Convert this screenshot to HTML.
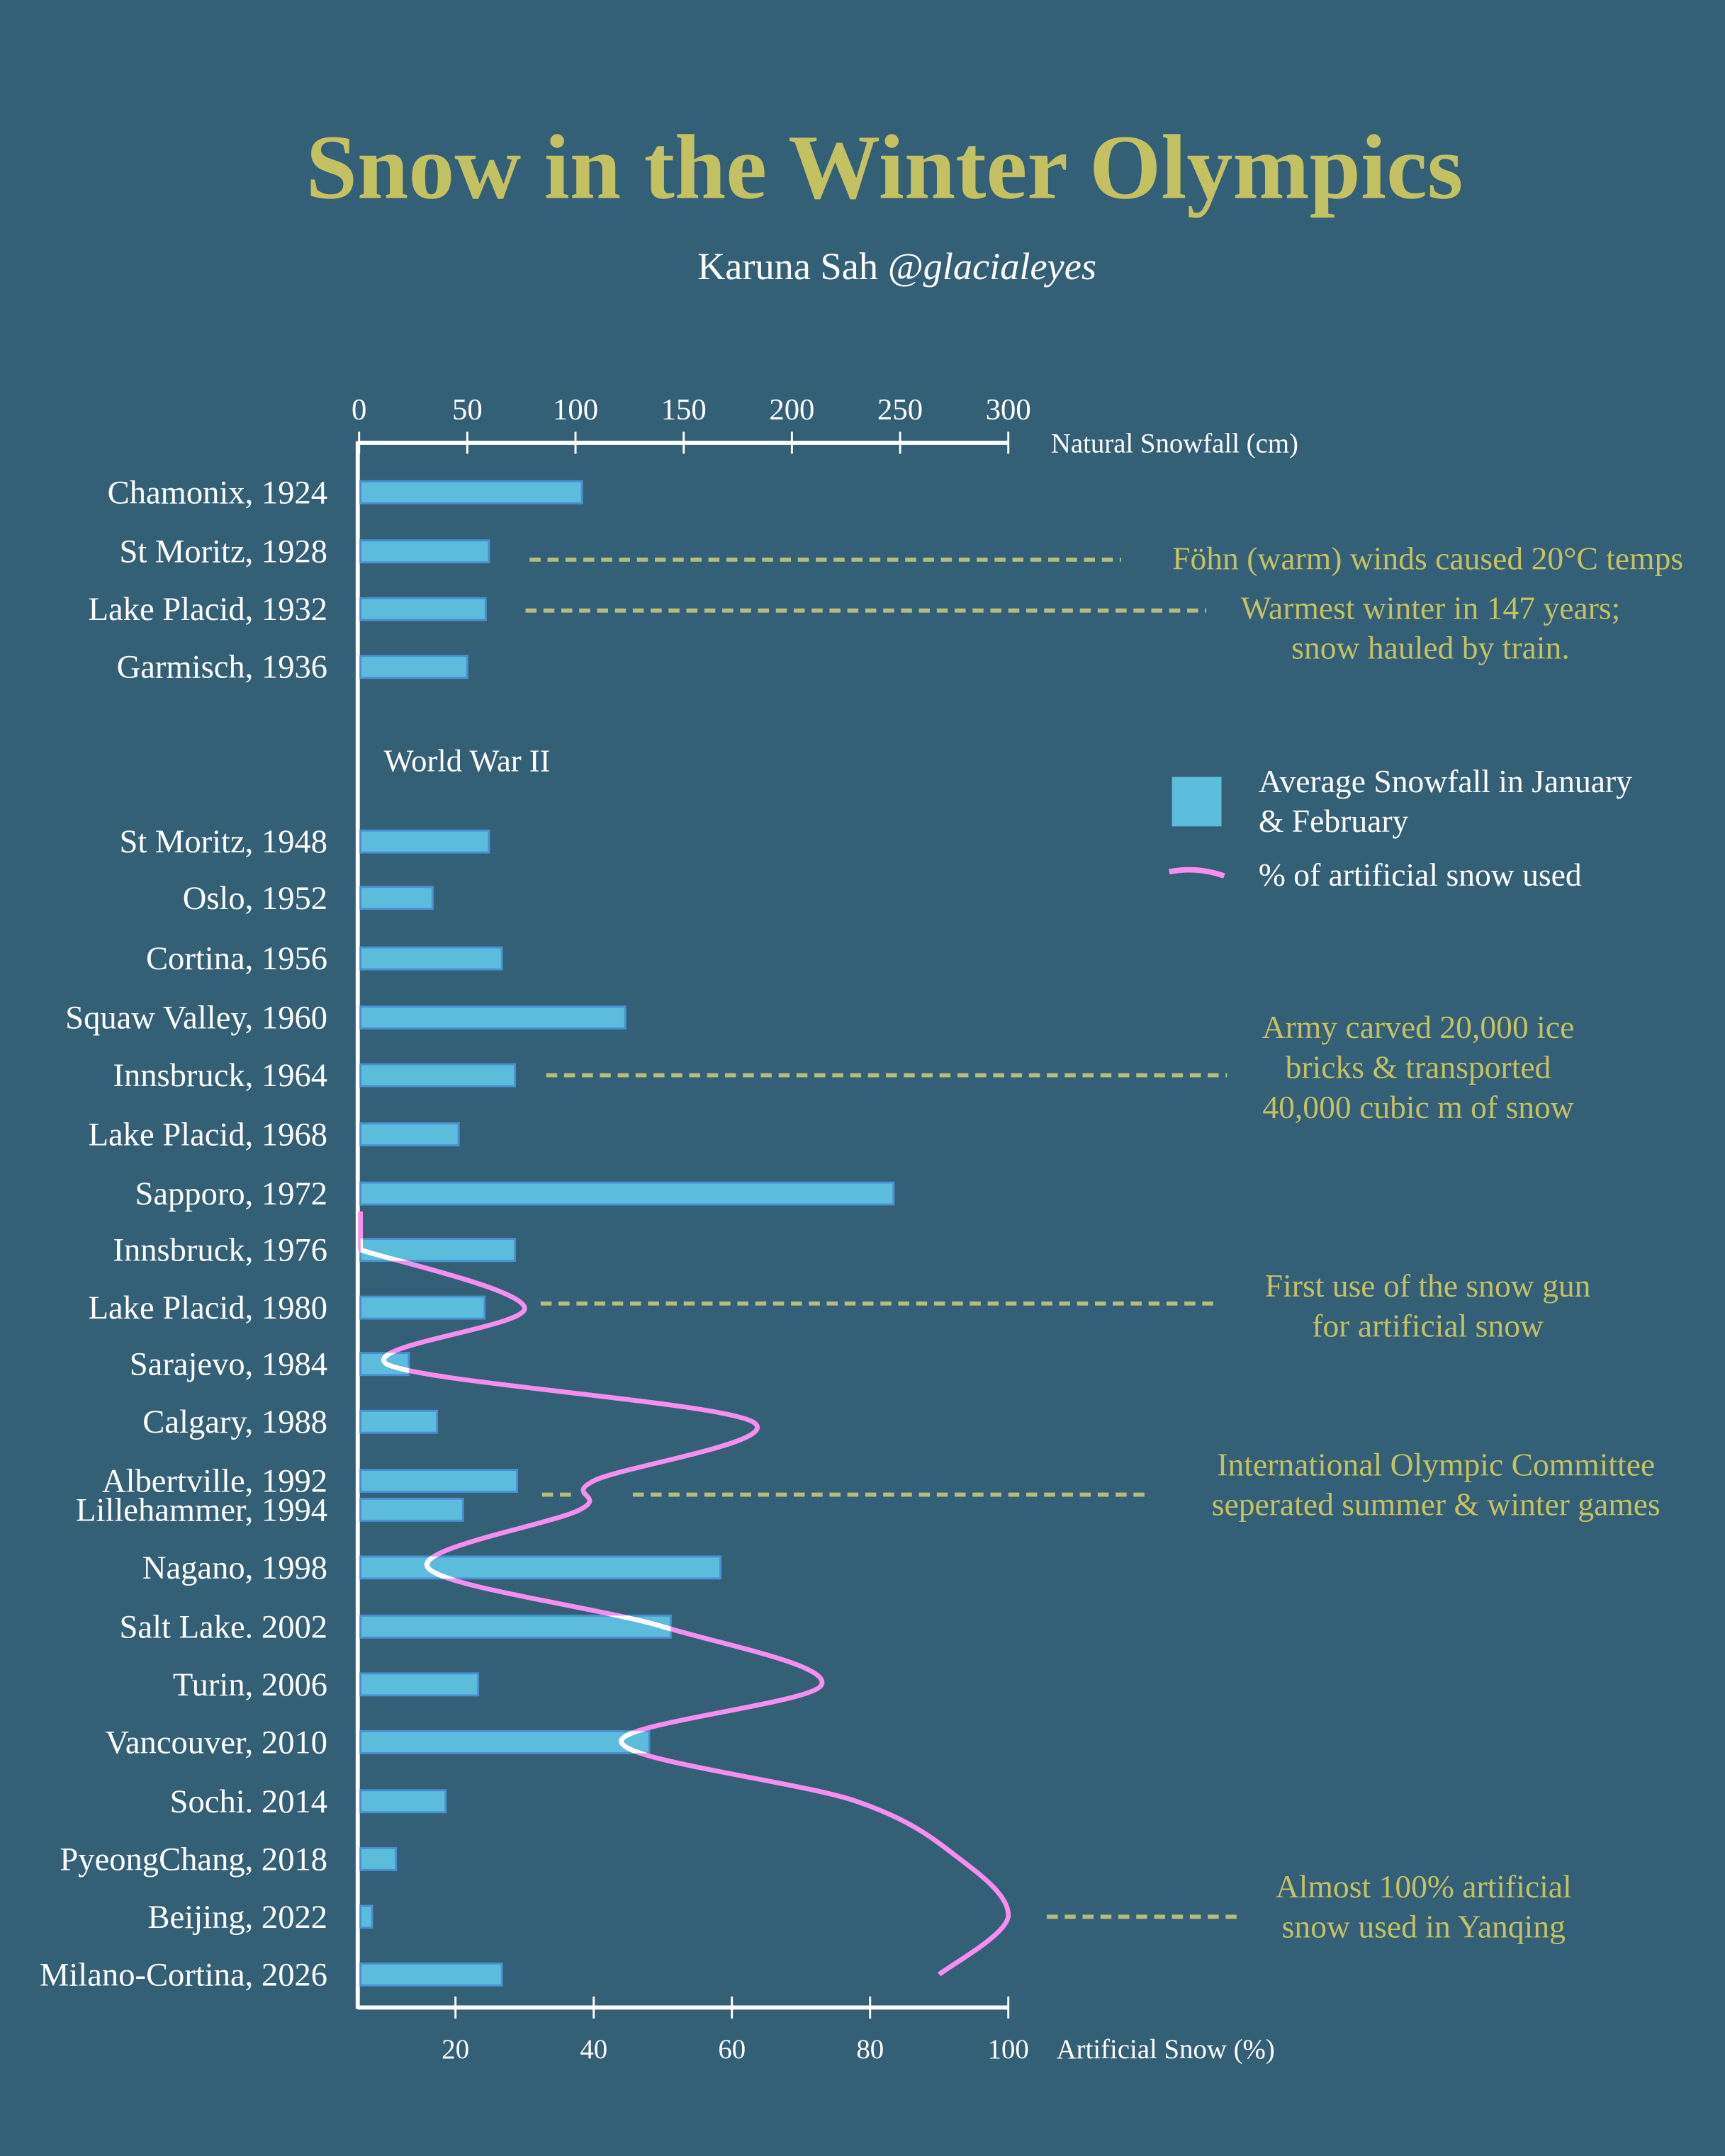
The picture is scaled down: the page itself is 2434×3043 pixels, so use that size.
<!DOCTYPE html>
<html><head><meta charset="utf-8"><style>
html,body{margin:0;padding:0;background:#335f77;}
svg{display:block;font-family:"Liberation Serif",serif;}
</style></head><body>
<svg id="c" width="2434" height="3043" viewBox="0 0 1254 1568">
<rect width="1254" height="1568" fill="#335f77"/>
<text x="643" y="144" text-anchor="middle" font-size="67" font-weight="bold" fill="#c4c163">Snow in the Winter Olympics</text>
<text x="652" y="203" text-anchor="middle" font-size="28" fill="#fff">Karuna Sah <tspan font-style="italic">@glacialeyes</tspan></text>
<g id="plot"></g>
</svg>
<script>
const cats=["Chamonix, 1924","St Moritz, 1928","Lake Placid, 1932","Garmisch, 1936","St Moritz, 1948","Oslo, 1952","Cortina, 1956","Squaw Valley, 1960","Innsbruck, 1964","Lake Placid, 1968","Sapporo, 1972","Innsbruck, 1976","Lake Placid, 1980","Sarajevo, 1984","Calgary, 1988","Albertville, 1992","Lillehammer, 1994","Nagano, 1998","Salt Lake. 2002","Turin, 2006","Vancouver, 2010","Sochi. 2014","PyeongChang, 2018","Beijing, 2022","Milano-Cortina, 2026"];
const snowfall=[103,60,58.5,50,60,34,66,123,72,46,247,72,58,23,36,73,48,167,144,55,134,40,17,6,66];
const artificial=[null,null,null,null,null,null,null,null,null,null,null,6.3,30,10,63,40,38,16,50,73,44,78,93,100,90];
const topTicks=[0,50,100,150,200,250,300];
const botTicks=[20,40,60,80,100];
const rowY=[358,401,443,485,612,653,697,740,782,825,868,909,951,992,1034,1077,1098,1140,1183,1225,1267,1310,1352,1394,1436];
const NS="http://www.w3.org/2000/svg";
const g=document.getElementById('plot');
const xs=v=>261+v*(733-261)/300;
const xa=v=>230.6+v*(733-230.6)/100;
function el(t,a,txt){const e=document.createElementNS(NS,t);for(const k in a)e.setAttribute(k,a[k]);if(txt!=null)e.textContent=txt;g.appendChild(e);return e;}
let ax=el('line',{x1:260,y1:322,x2:733,y2:322,stroke:'#fff','stroke-width':3});

let ay=el('line',{x1:260,y1:321,x2:260,y2:1461,stroke:'#fff','stroke-width':3});

let ab=el('line',{x1:260,y1:1460,x2:733,y2:1460,stroke:'#fff','stroke-width':3});

topTicks.forEach(t=>{const x=xs(t);
 let l=el('line',{x1:x,y1:314,x2:x,y2:330,stroke:'#fff','stroke-width':1.5});
 
 let tx=el('text',{x:x,y:305,'text-anchor':'middle','font-size':22,fill:'#fff'},t);
 });
botTicks.forEach(t=>{const x=xa(t);
 let l=el('line',{x1:x,y1:1452,x2:x,y2:1468,stroke:'#fff','stroke-width':1.5});
 
 let tx=el('text',{x:x,y:1497,'text-anchor':'middle','font-size':20,fill:'#fff'},t);
 });
let t1=el('text',{x:764,y:329,'font-size':20,fill:'#fff'},'Natural Snowfall (cm)');

let t2=el('text',{x:768,y:1497,'font-size':20,fill:'#fff'},'Artificial Snow (%)');

let ww=el('text',{x:279,y:561,'font-size':23,fill:'#fff'},'World War II');

const clip=el('clipPath',{id:'barclip'});
cats.forEach((c,i)=>{const y=rowY[i];
 let tx=el('text',{x:238,y:y+8,'text-anchor':'end','font-size':24,fill:'#fff'},c);
 
 let b=el('rect',{x:262,y:y-8,width:xs(snowfall[i])-262,height:16,fill:'#5bbcdc',stroke:'#4a8fd0','stroke-width':1.5});
 
 const r=document.createElementNS(NS,'rect');r.setAttribute('x',262);r.setAttribute('y',y-8);r.setAttribute('width',xs(snowfall[i])-262);r.setAttribute('height',16);clip.appendChild(r);
});
const pts=[];artificial.forEach((v,i)=>{if(v!=null)pts.push([xa(v),rowY[i]]);});
const cl=x=>Math.max(262,Math.min(734,x));
let d='M262,881 L262,'+(pts[0][1]-6)+' Q262,'+pts[0][1]+' '+pts[0][0]+','+pts[0][1];
for(let i=0;i<pts.length-1;i++){const p0=pts[Math.max(0,i-1)],p1=pts[i],p2=pts[i+1],p3=pts[Math.min(pts.length-1,i+2)];
 d+=` C${cl(p1[0]+(p2[0]-p0[0])/6)},${p1[1]+(p2[1]-p0[1])/6} ${cl(p2[0]-(p3[0]-p1[0])/6)},${p2[1]-(p3[1]-p1[1])/6} ${p2[0]},${p2[1]}`;}
let ln=el('path',{d:d,fill:'none',stroke:'#f78ef0','stroke-width':3.5});

let lw=el('path',{d:d,fill:'none',stroke:'#fff','stroke-width':3.5,'clip-path':'url(#barclip)'});

const gold='#c4c163';
function dash(x1,x2,y,n){let l=el('line',{x1:x1,y1:y,x2:x2,y2:y,stroke:'#b5bd7d','stroke-width':3,'stroke-dasharray':'8 5'});}
function note(x,y,lines,n){lines.forEach((s,k)=>{let t=el('text',{x:x,y:y+k*29,'text-anchor':'middle','font-size':23.5,fill:gold},s);});}
dash(385,815,407,'foehn-leader');note(1038,414,['Föhn (warm) winds caused 20°C temps'],'foehn-note');
dash(382,877,444,'lake-placid-leader');note(1040,450,['Warmest winter in 147 years;','snow hauled by train.'],'lake-placid-note');
dash(397,892,782,'innsbruck-leader');note(1031,755,['Army carved 20,000 ice','bricks & transported','40,000 cubic m of snow'],'innsbruck-note');
dash(393,887,948,'snow-gun-leader');note(1038,943,['First use of the snow gun','for artificial snow'],'snow-gun-note');
dash(394,416,1087,'ioc-leader-a');dash(460,837,1087,'ioc-leader-b');note(1044,1073,['International Olympic Committee','seperated summer & winter games'],'ioc-note');
dash(761,900,1394,'beijing-leader');note(1035,1380,['Almost 100% artificial','snow used in Yanqing'],'beijing-note');
let lg=el('rect',{x:852,y:565,width:36,height:36,fill:'#5bbcdc'});
let lt=el('text',{x:915,y:576,'font-size':23.5,fill:'#fff'},'Average Snowfall in January');
let lt2=el('text',{x:915,y:605,'font-size':23.5,fill:'#fff'},'& February');
let ll=el('path',{d:'M850,634 Q870,630 890,637',fill:'none',stroke:'#f78ef0','stroke-width':4});
let lt3=el('text',{x:915,y:644,'font-size':23.5,fill:'#fff'},'% of artificial snow used');
</script>
</body></html>
